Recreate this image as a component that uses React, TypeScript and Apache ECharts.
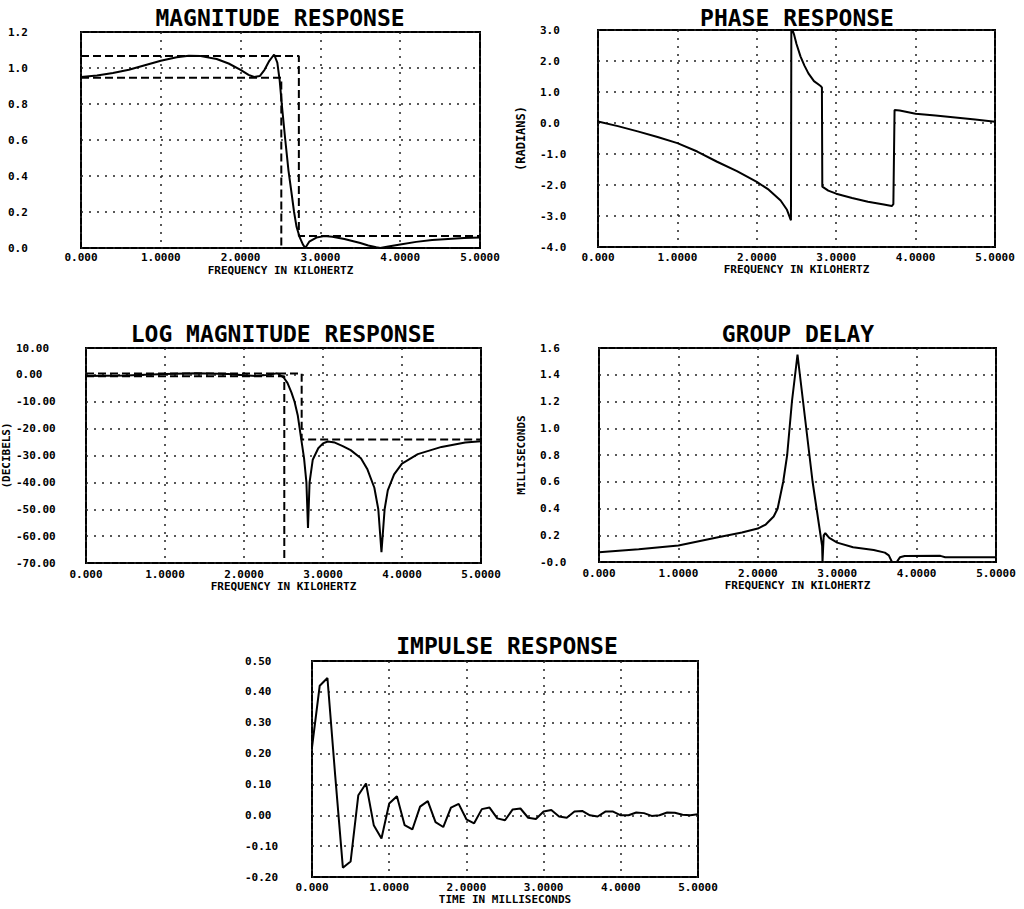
import { useEffect, useRef } from "react";
import * as echarts from "echarts";

// ---------- DATA ----------
const magnitudeCurve: [number, number][] = [
  [0.0, 0.95], [0.2, 0.958], [0.4, 0.972], [0.6, 0.99], [0.8, 1.015], [1.0, 1.04],
  [1.2, 1.06], [1.35, 1.068], [1.5, 1.066], [1.7, 1.05], [1.85, 1.025], [2.0, 0.99],
  [2.1, 0.962], [2.17, 0.95], [2.24, 0.955], [2.3, 0.99], [2.36, 1.04], [2.42, 1.075],
  [2.46, 1.03], [2.49, 0.93], [2.52, 0.78], [2.56, 0.6], [2.6, 0.43], [2.64, 0.3],
  [2.67, 0.2], [2.7, 0.12], [2.74, 0.06], [2.78, 0.02], [2.81, 0.0], [2.86, 0.035],
  [2.95, 0.058], [3.05, 0.066], [3.15, 0.062], [3.3, 0.05], [3.5, 0.028], [3.6, 0.014],
  [3.7, 0.004], [3.75, 0.0], [3.85, 0.008], [4.0, 0.02], [4.2, 0.034], [4.4, 0.044],
  [4.6, 0.05], [4.8, 0.056], [5.0, 0.058],
];
const magnitudeUpperSpec: [number, number][] = [[0, 1.067], [2.73, 1.067], [2.73, 0.067], [5, 0.067]];
const magnitudeLowerSpec: [number, number][] = [[0, 0.946], [2.51, 0.946], [2.51, 0], [5, 0]];

const phaseCurve: [number, number][] = [
  [0.0, 0.05], [0.25, -0.1], [0.5, -0.27], [0.75, -0.45], [1.0, -0.65], [1.25, -0.92],
  [1.5, -1.25], [1.75, -1.55], [2.0, -1.9], [2.15, -2.15], [2.3, -2.5], [2.38, -2.8],
  [2.43, -3.14], [2.435, 3.1], [2.47, 2.85], [2.5, 2.55], [2.55, 2.15], [2.6, 1.85],
  [2.65, 1.6], [2.72, 1.35], [2.8, 1.2], [2.82, 1.15], [2.825, -2.05], [2.9, -2.18],
  [3.0, -2.28], [3.2, -2.42], [3.4, -2.54], [3.6, -2.63], [3.7, -2.68], [3.72, -2.62],
  [3.735, 0.42], [3.8, 0.4], [4.0, 0.3], [4.25, 0.24], [4.5, 0.18], [4.75, 0.11], [5.0, 0.04],
];

const logMagnitudeCurve: [number, number][] = [
  [0.0, -0.45], [0.5, -0.2], [1.0, 0.3], [1.4, 0.56], [1.8, 0.3], [2.0, -0.1], [2.15, -0.45],
  [2.3, 0.0], [2.42, 0.6], [2.5, -0.9], [2.55, -3], [2.6, -6.5], [2.64, -10], [2.68, -15],
  [2.705, -20], [2.73, -25], [2.76, -31], [2.79, -40], [2.81, -57], [2.83, -40], [2.87, -31.6],
  [2.94, -27.3], [3.0, -25.5], [3.06, -24.8], [3.15, -25.2], [3.25, -26.5], [3.35, -28],
  [3.48, -31], [3.56, -35], [3.65, -42], [3.7, -50], [3.74, -66], [3.78, -50], [3.82, -43],
  [3.9, -37], [4.0, -33], [4.2, -29.5], [4.5, -26.8], [4.8, -25.2], [5.0, -24.7],
];
const logUpperSpec: [number, number][] = [[0, 0.5], [2.73, 0.5], [2.73, -24], [5, -24]];
const logLowerSpec: [number, number][] = [[0, -0.5], [2.51, -0.5], [2.51, -70]];

const groupDelayCurve: [number, number][] = [
  [0.0, 0.073], [0.5, 0.095], [1.0, 0.124], [1.5, 0.185], [1.8, 0.22], [2.0, 0.25],
  [2.1, 0.28], [2.2, 0.34], [2.25, 0.4], [2.32, 0.6], [2.37, 0.8], [2.4, 1.0], [2.43, 1.2],
  [2.47, 1.4], [2.5, 1.55], [2.53, 1.4], [2.57, 1.2], [2.61, 1.0], [2.65, 0.8], [2.69, 0.6],
  [2.74, 0.4], [2.79, 0.2], [2.81, 0.12], [2.815, 0.0], [2.83, 0.2], [2.85, 0.215],
  [2.9, 0.18], [3.0, 0.145], [3.2, 0.11], [3.46, 0.09], [3.6, 0.07], [3.65, 0.05],
  [3.69, 0.0], [3.75, 0.0], [3.79, 0.035], [3.85, 0.045], [4.3, 0.046], [4.36, 0.036], [5.0, 0.036],
];

const impulseTime = [
  0.0, 0.1, 0.2, 0.3, 0.4, 0.5, 0.6, 0.7, 0.8, 0.9, 1.0, 1.1, 1.2, 1.3, 1.4, 1.5, 1.6,
  1.7, 1.8, 1.9, 2.0, 2.1, 2.2, 2.3, 2.4, 2.5, 2.6, 2.7, 2.8, 2.9, 3.0, 3.1, 3.2, 3.3,
  3.4, 3.5, 3.6, 3.7, 3.8, 3.9, 4.0, 4.1, 4.2, 4.3, 4.4, 4.5, 4.6, 4.7, 4.8, 4.9, 5.0,
];
const impulseValues = [
  0.22, 0.42, 0.445, 0.13, -0.17, -0.15, 0.065, 0.103, -0.032, -0.075, 0.038, 0.062,
  -0.032, -0.046, 0.028, 0.046, -0.022, -0.038, 0.025, 0.037, -0.013, -0.026, 0.02,
  0.025, -0.01, -0.016, 0.019, 0.022, -0.008, -0.012, 0.012, 0.017, -0.004, -0.008,
  0.012, 0.014, 0.0, -0.004, 0.012, 0.012, 0.0, 0.0, 0.009, 0.007, -0.002, 0.0, 0.009,
  0.008, 0.002, 0.0, 0.003,
];

const titles = [
  "MAGNITUDE RESPONSE",
  "PHASE RESPONSE",
  "LOG MAGNITUDE RESPONSE",
  "GROUP DELAY",
  "IMPULSE RESPONSE",
];
const xNames = [
  "FREQUENCY IN KILOHERTZ",
  "FREQUENCY IN KILOHERTZ",
  "FREQUENCY IN KILOHERTZ",
  "FREQUENCY IN KILOHERTZ",
  "TIME IN MILLISECONDS",
];
const yNames = ["", "(RADIANS)", "(DECIBELS)", "MILLISECONDS", ""];

// ---------- LAYOUT / STYLE ----------
const FONT = "'DejaVu Sans Mono', 'Liberation Mono', monospace";

const grids = [
  { left: 81, top: 32, width: 399, height: 216 },
  { left: 598, top: 30, width: 397, height: 217 },
  { left: 83, top: 348, width: 398, height: 215 },
  { left: 599, top: 348, width: 397, height: 214 },
  { left: 312, top: 661, width: 386, height: 216 },
];
const titlePos = [
  { x: 275, y: 1 },
  { x: 792, y: 1 },
  { x: 278, y: 317 },
  { x: 793, y: 317 },
  { x: 502, y: 629 },
];
const yLabelX = [8, 540, 13, 540, 245];

const dotted = { type: [2, 6] as number[], width: 1.5, color: "#222" };
const labelStyle = { fontFamily: FONT, fontWeight: "bold" as const, fontSize: 11, color: "#000" };

const fmtX = (v: number) => (v === 0 ? "0.000" : v.toFixed(4));

export default function App() {
  const ref = useRef<HTMLDivElement>(null);

  useEffect(() => {
    if (!ref.current) return;
    const chart = echarts.init(ref.current, null, { renderer: "svg" });

    const yDefs = [
      { min: 0, max: 1.2, interval: 0.2, fmt: (v: number) => v.toFixed(1) },
      { min: -4, max: 3, interval: 1, fmt: (v: number) => v.toFixed(1) },
      { min: -70, max: 10, interval: 10, fmt: (v: number) => v.toFixed(2) },
      { min: 0, max: 1.6, interval: 0.2, fmt: (v: number) => (Math.abs(v) < 1e-9 ? "-0.0" : v.toFixed(1)) },
      { min: -0.2, max: 0.5, interval: 0.1, fmt: (v: number) => (Math.abs(v) < 1e-9 ? "0.00" : v.toFixed(2)) },
    ];
    const yNameGap = [0, 71, 74, 72, 0];
    const xLabelMargin = [4, 5, 6, 6, 5];

    const solid = (data: [number, number][], i: number) => ({
      type: "line",
      xAxisIndex: i,
      yAxisIndex: i,
      data,
      showSymbol: false,
      symbol: "none",
      lineStyle: { color: "#000", width: 2 },
      z: 3,
    });
    const dashed = (data: [number, number][], i: number) => ({
      type: "line",
      xAxisIndex: i,
      yAxisIndex: i,
      data,
      showSymbol: false,
      symbol: "none",
      lineStyle: { color: "#000", width: 2, type: [8, 4] },
      z: 2,
    });

    const option: any = {
      animation: false,
      backgroundColor: "#fff",
      title: titles.map((t, i) => ({
        text: t,
        left: titlePos[i].x,
        top: titlePos[i].y,
        textAlign: "center",
        textStyle: { fontFamily: FONT, fontWeight: "bold", fontSize: 23, color: "#000" },
      })),
      grid: grids.map((g) => ({
        ...g,
        show: true,
        borderColor: "#000",
        borderWidth: 2,
        backgroundColor: "transparent",
        containLabel: false,
      })),
      xAxis: grids.map((g, i) => ({
        type: "value",
        gridIndex: i,
        min: 0,
        max: 5,
        interval: 1,
        axisLine: { show: false },
        axisTick: { show: false },
        splitLine: { show: true, lineStyle: dotted },
        axisLabel: { ...labelStyle, margin: xLabelMargin[i], formatter: fmtX },
        name: xNames[i],
        nameLocation: "middle",
        nameGap: 17,
        nameTextStyle: { ...labelStyle },
      })),
      yAxis: yDefs.map((d, i) => ({
        type: "value",
        gridIndex: i,
        min: d.min,
        max: d.max,
        interval: d.interval,
        axisLine: { show: false },
        axisTick: { show: false },
        splitLine: { show: true, lineStyle: dotted },
        axisLabel: {
          ...labelStyle,
          align: "left",
          margin: grids[i].left - yLabelX[i],
          padding: [4, 0, 0, 0],
          formatter: d.fmt,
        },
        name: yNames[i],
        nameLocation: "middle",
        nameGap: yNameGap[i],
        nameTextStyle: { ...labelStyle, fontSize: i === 1 ? 12 : 11 },
      })),
      series: [
        dashed(magnitudeUpperSpec, 0),
        dashed(magnitudeLowerSpec, 0),
        solid(magnitudeCurve, 0),
        solid(phaseCurve, 1),
        dashed(logUpperSpec, 2),
        dashed(logLowerSpec, 2),
        solid(logMagnitudeCurve, 2),
        solid(groupDelayCurve, 3),
        solid(impulseTime.map((t, k) => [t, impulseValues[k]] as [number, number]), 4),
      ],
    };

    chart.setOption(option);
    return () => chart.dispose();
  }, []);

  return (
    <div
      ref={ref}
      style={{ position: "fixed", left: 0, top: 0, width: 1024, height: 909, background: "#fff" }}
    />
  );
}
